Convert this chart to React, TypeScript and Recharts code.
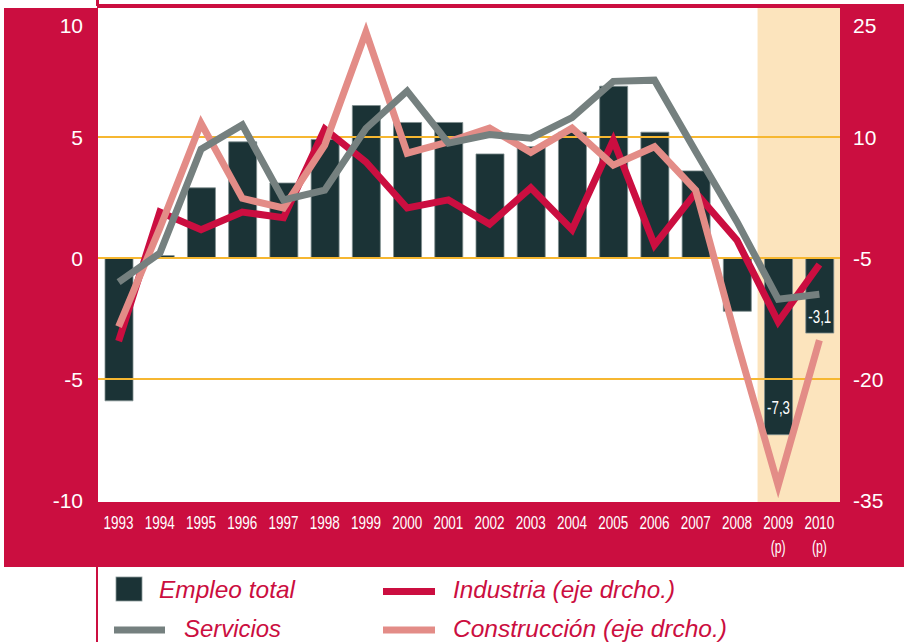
import React from 'react';
import {
  ComposedChart,
  Bar,
  Line,
  XAxis,
  YAxis,
  ReferenceLine,
  ReferenceArea,
  LabelList,
} from 'recharts';

const years = ['1993', '1994', '1995', '1996', '1997', '1998', '1999', '2000', '2001', '2002', '2003', '2004', '2005', '2006', '2007', '2008', '2009', '2010'];
const yearNotes = ['', '', '', '', '', '', '', '', '', '', '', '', '', '', '', '', '(p)', '(p)'];
const empleoTotal = [-5.9, 0.1, 2.9, 4.8, 3.1, 4.9, 6.3, 5.6, 5.6, 4.3, 4.6, 5.2, 7.1, 5.2, 3.6, -2.2, -7.3, -3.1];
const servicios = [-1.0, 0.2, 4.5, 5.5, 2.4, 2.8, 5.35, 6.9, 4.75, 5.1, 4.95, 5.8, 7.3, 7.35, 4.4, 1.5, -1.7, -1.5];
const industria = [-15.3, 0.7, -1.5, 0.7, 0.0, 11.0, 6.9, 1.2, 2.2, -0.8, 3.7, -1.5, 9.6, -3.4, 3.1, -2.8, -12.9, -5.8];
const construccion = [-13.5, -1.3, 11.7, 2.4, 1.2, 9.0, 23.0, 8.0, 9.4, 11.1, 8.1, 11.1, 6.5, 8.8, 3.4, -15.4, -33.2, -15.2];
const barLabels = ['', '', '', '', '', '', '', '', '', '', '', '', '', '', '', '', '-7,3', '-3,1'];
const leftTicks = [-10, -5, 0, 5, 10];
const rightTicks = [-35, -20, -5, 10, 25];
const gridValues = [-5, 0, 5];

const CRIMSON = '#CB0E40';
const DARK = '#1B3336';
const GRAY = '#75807F';
const PINK = '#E38C87';
const GRID = '#F6B731';
const SHADE = '#FCE4BD';
const FONT = '"Liberation Sans", Arial, Helvetica, sans-serif';

const data = years.map((y, i) => ({
  year: y,
  empleo: empleoTotal[i],
  servicios: servicios[i],
  industria: industria[i],
  construccion: construccion[i],
  lbl: barLabels[i],
}));

const XTick = (props: any) => {
  const { x, y, payload } = props;
  const i = years.indexOf(String(payload.value));
  return (
    <g>
      <text x={x} y={y + 27} textAnchor="middle" fill="#fff" fontSize={19} fontFamily={FONT}
        textLength={30} lengthAdjust="spacingAndGlyphs">{payload.value}</text>
      {yearNotes[i] ? (
        <text x={x} y={y + 51} textAnchor="middle" fill="#fff" fontSize={18} fontFamily={FONT}
          textLength={15} lengthAdjust="spacingAndGlyphs">{yearNotes[i]}</text>
      ) : null}
    </g>
  );
};

const makeYTick = (anchor: 'start' | 'end', topValue: number) => (props: any) => {
  const { x, y, payload } = props;
  const dy = payload.value === topValue ? 9 : 0;
  return (
    <text x={x} y={y + dy} dy="0.36em" textAnchor={anchor} fill="#fff" fontSize={21} fontFamily={FONT}>
      {String(payload.value)}
    </text>
  );
};
const LeftTick = makeYTick('end', 10);
const RightTick = makeYTick('start', 25);

const labelLift: Record<string, number> = { '-7,3': 27, '-3,1': 17 };

const BarLabel = (props: any) => {
  const { value } = props;
  if (!value) return null;
  const vb = props.viewBox || {};
  const x = Number(props.x ?? vb.x);
  const y = Number(props.y ?? vb.y);
  const w = Number(props.width ?? vb.width);
  const h = Number(props.height ?? vb.height);
  const bottom = Math.max(y, y + h);
  const lift = labelLift[value] ?? 20;
  return (
    <text x={x + w / 2} y={bottom - lift} dy="0.36em" textAnchor="middle" fill="#fff" fontSize={18}
      fontFamily={FONT} textLength={23} lengthAdjust="spacingAndGlyphs">{value}</text>
  );
};

export default function App() {
  return (
    <div style={{ position: 'absolute', left: 0, top: 0, width: 904, height: 642, background: '#fff', overflow: 'hidden' }}>
      <div style={{ position: 'absolute', left: 4, top: 8, width: 900, height: 559, background: CRIMSON }} />
      <div style={{ position: 'absolute', left: 97, top: 4, width: 807, height: 5, background: CRIMSON }} />
      <div style={{ position: 'absolute', left: 96, top: 0, width: 3, height: 6, background: CRIMSON }} />
      <div style={{ position: 'absolute', left: 96, top: 566, width: 2, height: 76, background: CRIMSON }} />
      <div style={{ position: 'absolute', left: 98, top: 8, width: 742, height: 494, background: '#fff' }} />
      <div style={{ position: 'absolute', left: 0, top: 0 }}>
        <ComposedChart width={904} height={567} data={data} margin={{ top: 8, right: 0, bottom: 0, left: 0 }}>
          <ReferenceArea yAxisId="l" x1="2009" x2="2010" fill={SHADE} fillOpacity={1} stroke="none" />
          {gridValues.map((v) => (
            <ReferenceLine key={v} yAxisId="l" y={v} stroke={GRID} strokeWidth={2} />
          ))}
          <XAxis dataKey="year" height={65} interval={0} axisLine={false} tickLine={false} tickSize={0}
            tickMargin={0} tick={<XTick />} />
          <YAxis yAxisId="l" width={98} domain={[-10.08, 10.33]} ticks={leftTicks} allowDataOverflow
            axisLine={false} tickLine={false} tickSize={0} tickMargin={15} tick={<LeftTick />} />
          <YAxis yAxisId="r" orientation="right" width={64} domain={[-35.24, 25.99]} ticks={rightTicks}
            allowDataOverflow axisLine={false} tickLine={false} tickSize={0} tickMargin={13} tick={<RightTick />} />
          <Bar yAxisId="l" dataKey="empleo" fill={DARK} stroke="#7f8e8e" strokeWidth={0.8} barSize={28}
            isAnimationActive={false}>
            <LabelList dataKey="lbl" content={<BarLabel />} />
          </Bar>
          <Line yAxisId="r" type="linear" dataKey="industria" stroke={CRIMSON} strokeWidth={7} dot={false}
            activeDot={false} isAnimationActive={false} />
          <Line yAxisId="r" type="linear" dataKey="construccion" stroke={PINK} strokeWidth={7} dot={false}
            activeDot={false} isAnimationActive={false} />
          <Line yAxisId="l" type="linear" dataKey="servicios" stroke={GRAY} strokeWidth={7} dot={false}
            activeDot={false} isAnimationActive={false} />
        </ComposedChart>
      </div>
      <svg width={904} height={75} style={{ position: 'absolute', left: 0, top: 567 }}>
        <rect x={116} y={10} width={26} height={24} fill={DARK} stroke="#8a9a9a" strokeWidth={0.8} />
        <text x={159} y={31} fill={CRIMSON} fontSize={24} fontStyle="italic" fontFamily={FONT}
          textLength={136} lengthAdjust="spacingAndGlyphs">Empleo total</text>
        <line x1={114} x2={165} y1={63} y2={63} stroke={GRAY} strokeWidth={7} />
        <text x={184} y={70} fill={CRIMSON} fontSize={24} fontStyle="italic" fontFamily={FONT}
          textLength={97} lengthAdjust="spacingAndGlyphs">Servicios</text>
        <line x1={383} x2={435} y1={24.5} y2={24.5} stroke={CRIMSON} strokeWidth={7} />
        <text x={453} y={31} fill={CRIMSON} fontSize={24} fontStyle="italic" fontFamily={FONT}
          textLength={222} lengthAdjust="spacingAndGlyphs">Industria (eje drcho.)</text>
        <line x1={383} x2={435} y1={63} y2={63} stroke={PINK} strokeWidth={7} />
        <text x={453} y={70} fill={CRIMSON} fontSize={24} fontStyle="italic" fontFamily={FONT}
          textLength={274} lengthAdjust="spacingAndGlyphs">Construcción (eje drcho.)</text>
      </svg>
    </div>
  );
}
